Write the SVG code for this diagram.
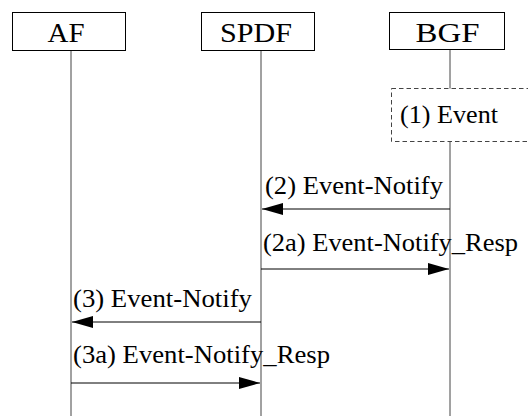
<svg xmlns="http://www.w3.org/2000/svg" width="528" height="416" viewBox="0 0 528 416">
<style>
.box{fill:#fff;stroke:#000;stroke-width:1}
.life{stroke:#444;stroke-width:1}
.name{font-family:"Liberation Serif","Times New Roman",serif;font-size:28px;fill:#000;text-anchor:middle}
.lbl{font-family:"Liberation Serif","Times New Roman",serif;font-size:25px;fill:#000}
.msg{stroke:#000;stroke-width:1;fill:none}
.dash{fill:#fff;stroke:#444;stroke-width:1;stroke-dasharray:4.5 3}
</style>
<defs>
<marker id="ah" viewBox="0 0 21 12" refX="21" refY="6" markerWidth="21" markerHeight="12" markerUnits="userSpaceOnUse" orient="auto">
<path d="M0,0 L21,6 L0,12 Z" fill="#000"/>
</marker>
</defs>
<rect width="528" height="416" fill="#fff"/>
<g id="lifelines">
<line class="life" x1="71" y1="50" x2="71" y2="416"/>
<line class="life" x1="261" y1="50" x2="261" y2="416"/>
<line class="life" x1="450" y1="50" x2="450" y2="416"/>
</g>
<g id="AF">
<rect class="box" x="12.5" y="12.5" width="113" height="38"/>
<text class="name" x="66" y="42" textLength="37" lengthAdjust="spacingAndGlyphs">AF</text>
</g>
<g id="SPDF">
<rect class="box" x="201.5" y="12.5" width="113" height="38"/>
<text class="name" x="256" y="42" textLength="72" lengthAdjust="spacingAndGlyphs">SPDF</text>
</g>
<g id="BGF">
<rect class="box" x="389.5" y="12.5" width="115" height="37"/>
<text class="name" x="447.5" y="42" textLength="64" lengthAdjust="spacingAndGlyphs">BGF</text>
</g>
<g id="event">
<rect class="dash" x="391.5" y="88.5" width="150" height="53"/>
<text class="lbl" x="400" y="123" textLength="98" lengthAdjust="spacingAndGlyphs">(1) Event</text>
</g>
<g id="connectors">
<line class="msg" x1="450" y1="209" x2="262" y2="209" marker-end="url(#ah)"/>
<line class="msg" x1="261" y1="269" x2="449" y2="269" marker-end="url(#ah)"/>
<line class="msg" x1="261" y1="322" x2="72" y2="322" marker-end="url(#ah)"/>
<line class="msg" x1="71" y1="383" x2="260" y2="383" marker-end="url(#ah)"/>
<text class="lbl" x="265" y="194" textLength="178" lengthAdjust="spacingAndGlyphs">(2) Event-Notify</text>
<text class="lbl" x="263" y="251" textLength="255" lengthAdjust="spacingAndGlyphs">(2a) Event-Notify_Resp</text>
<text class="lbl" x="73" y="307" textLength="179" lengthAdjust="spacingAndGlyphs">(3) Event-Notify</text>
<text class="lbl" x="73" y="363" textLength="257" lengthAdjust="spacingAndGlyphs">(3a) Event-Notify_Resp</text>
</g>
</svg>
